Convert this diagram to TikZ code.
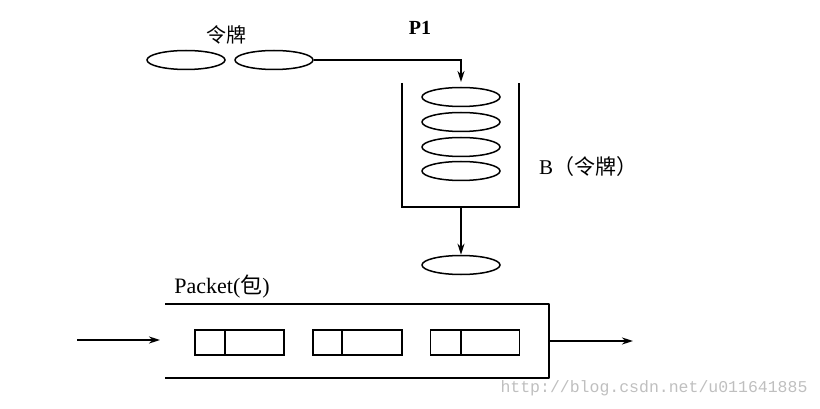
\documentclass[tikz,border=0pt]{standalone}
\usepackage{fontspec}
\setmainfont{Liberation Serif}
\setmonofont{Liberation Mono}
\newfontfamily\cjk{Noto Sans CJK SC}
\usetikzlibrary{shapes.geometric,arrows.meta}
\begin{document}
\begin{tikzpicture}[x=1pt,y=-1pt, line width=1.9pt,
  tok/.style={draw, ellipse, minimum width=78pt, minimum height=19pt, inner sep=0pt, line width=1.5pt},
  pkt/.style={draw, rectangle, minimum width=89pt, minimum height=25pt, inner sep=0pt, line width=1.6pt},
  arr/.style={-{Stealth[length=11pt,width=7pt]}},
  lbl/.style={font=\fontsize{20}{22}\selectfont, inner sep=0pt},
  wm/.style={font=\ttfamily\fontsize{16.5}{18}\selectfont, text=black!25, inner sep=0pt}]
\useasboundingbox (0,0) rectangle (820,409);
% tokens
\node[tok] (t1) at (186,60) {};
\node[tok] (t2) at (274,60) {};
\node[lbl] (ltok) at (226,35) {\cjk 令牌};
\node[lbl, font=\fontsize{20}{22}\selectfont\bfseries] (p1) at (420,28) {P1};
% bucket
\coordinate (bTL) at (402,83);
\coordinate (bBL) at (402,207);
\coordinate (bBR) at (519,207);
\coordinate (bTR) at (519,83);
\draw (bTL) -- (bBL) -- (bBR) -- (bTR);
\node[tok] (b1) at (461,97) {};
\node[tok] (b2) at (461,122) {};
\node[tok] (b3) at (461,147) {};
\node[tok] (b4) at (461,171) {};
\node[lbl, font=\fontsize{21}{22}\selectfont] (lb) at (588,167) {B\cjk （令牌）};
\coordinate (in) at (461,82);
\draw[arr] (t2.east) -- (t2.east -| in) -- (in);
\coordinate (bout) at (461,207);
\node[tok] (t5) at (461,265) {};
\draw[arr] (bout) -- (t5.north);
% pipe
\coordinate (pTL) at (165,304);
\coordinate (pTR) at (549,304);
\coordinate (pBR) at (549,378);
\coordinate (pBL) at (165,378);
\draw[line join=round] (pTL) -- (pTR) -- (pBR) -- (pBL);
\node[lbl, font=\fontsize{22}{24}\selectfont] (lp) at (222,287) {Packet(\cjk 包\rmfamily)};
\coordinate (lin) at (77,340);
\coordinate (pin) at (160,340);
\draw[arr] (lin) -- (pin);
\coordinate (pout) at (549,341);
\coordinate (rout) at (633,341);
\draw[arr] (pout) -- (rout);
% packets
\node[pkt] (r1) at (239.5,342.5) {};
\node[pkt] (r2) at (357.5,342.5) {};
\node[pkt] (r3) at (475,342.5) {};
\draw[line width=1.6pt] ([xshift=31pt]r1.north west) -- ([xshift=31pt]r1.south west);
\draw[line width=1.6pt] ([xshift=30pt]r2.north west) -- ([xshift=30pt]r2.south west);
\draw[line width=1.6pt] ([xshift=31pt]r3.north west) -- ([xshift=31pt]r3.south west);
% watermark
\node[wm] (w) at (654,388) {http://blog.csdn.net/u011641885};
\end{tikzpicture}
\end{document}
